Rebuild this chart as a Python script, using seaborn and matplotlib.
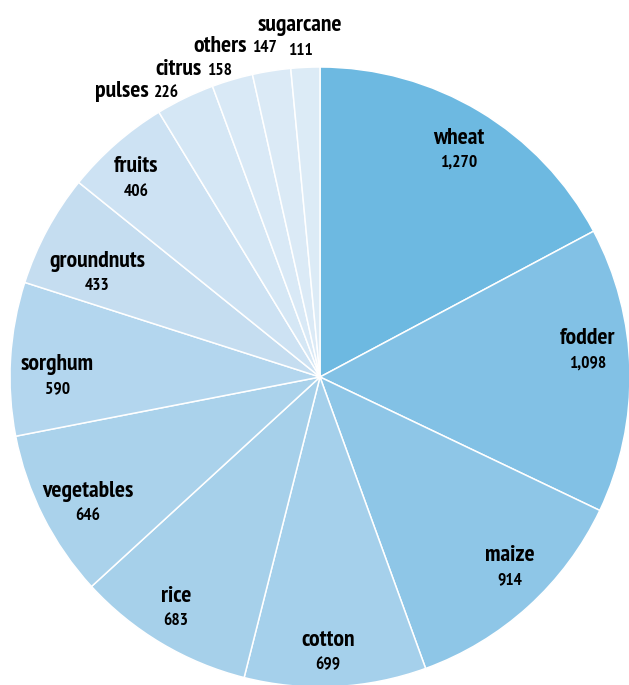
import os
import numpy as np
import matplotlib
matplotlib.use("Agg")
import matplotlib.pyplot as plt
import seaborn as sns
from matplotlib import font_manager
from matplotlib.font_manager import FontProperties

crops = ["wheat", "fodder", "maize", "cotton", "rice", "vegetables", "sorghum",
         "groundnuts", "fruits", "pulses", "citrus", "others", "sugarcane"]
values = [1270, 1098, 914, 699, 683, 646, 590, 433, 406, 226, 158, 147, 111]
colors = ["#6db9e1", "#82c1e5", "#8ec6e7", "#a5d0eb", "#a6d0ea", "#aad2eb",
          "#b3d6ee", "#c5ddf0", "#cde2f3", "#d5e7f5", "#d9e9f6", "#dbeaf6", "#dcebf6"]

sns.set_theme(style="white")
plt.rcParams["font.family"] = ["DejaVu Sans"]

# condensed bold face, close to the reference's lettering
files = font_manager.findSystemFonts()
pick = None
for key in ["ptsansnarrow-bold", "pt_sans-narrow-web-bold", "firasanscondensed-semibold",
            "opensans_condensed-bold", "asapcondensed-semibold", "dejavusanscondensed-bold"]:
    hits = [f for f in files if os.path.basename(f).lower().startswith(key)]
    if hits:
        pick = hits[0]
        break

def fp(size):
    if pick:
        return FontProperties(fname=pick, size=size)
    return FontProperties(family="DejaVu Sans", weight="bold", size=size - 2)

name_fp = fp(17)
val_fp = fp(12.5)

fig = plt.figure(figsize=(6.29, 6.85), dpi=100)
ax = fig.add_axes([10 / 629, (685 - 377 - 310) / 685, 620 / 629, 620 / 685])

wedges, _ = ax.pie(values, colors=colors, startangle=90, counterclock=False,
                   radius=1, wedgeprops=dict(edgecolor="white", linewidth=1.1))
ax.set_xlim(-1, 1)
ax.set_ylim(-1, 1)
ax.set_aspect("auto")
ax.axis("off")

# label layout: (distance, angle shift in degrees, clockwise)
inside = {"wheat": (0.857, 0.56), "fodder": (0.867, -4.27), "maize": (0.868, -2.6),
          "cotton": (0.890, 1.16), "rice": (0.881, 1.06), "vegetables": (0.854, -1.84),
          "sorghum": (0.847, -3.38), "groundnuts": (0.793, -3.47), "fruits": (0.872, -1.75)}
outside = {"pulses": (1.011, -0.93), "citrus": (1.015, 0.19), "others": (1.057, 1.46)}

pending = []
for w, name, v in zip(wedges, crops, values):
    mid = (w.theta1 + w.theta2) / 2
    if name in inside:
        d, shift = inside[name]
        ang = np.deg2rad(mid - shift)
        x, y = d * np.cos(ang), d * np.sin(ang)
        ax.text(x, y + 0.04, name, ha="center", va="center", fontproperties=name_fp, color="black")
        ax.text(x, y - 0.04, f"{v:,}", ha="center", va="center", fontproperties=val_fp, color="black")
    elif name in outside:
        d, shift = outside[name]
        ang = np.deg2rad(mid - shift)
        x, y = d * np.cos(ang), d * np.sin(ang)
        t = ax.text(x, y, f"{v:,}", ha="right", va="baseline", fontproperties=val_fp, color="black")
        pending.append((t, name, y))
    elif name == "sugarcane":
        ang = np.deg2rad(mid + 0.6)
        x = 1.11 * np.cos(ang)
        ax.text(x, 1.116, name, ha="center", va="baseline", fontproperties=name_fp, color="black")
        ax.text(x, 1.039, f"{v:,}", ha="center", va="baseline", fontproperties=val_fp, color="black")

# put the crop name just left of its value, sharing the baseline
fig.canvas.draw()
inv = ax.transData.inverted()
for t, name, y in pending:
    bb = t.get_window_extent()
    x0 = inv.transform((bb.x0 - 5, bb.y0))[0]
    ax.text(x0, y, name, ha="right", va="baseline", fontproperties=name_fp, color="black")

fig.savefig("out.png", dpi=100)
